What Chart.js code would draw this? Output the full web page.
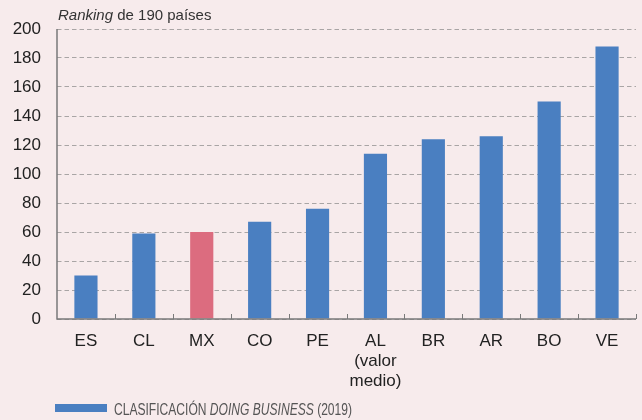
<!DOCTYPE html>
<html lang="es">
<head>
  <meta charset="UTF-8" />
  <title>Clasificación Doing Business</title>
  <script src="https://cdn.jsdelivr.net/npm/chart.js"></script>
  <style>
    html, body {
      margin: 0;
      padding: 0;
      background-color: #f7ebec;
    }
    .chart-box {
      width: 642px;
      height: 420px;
      position: relative;
    }
  </style>
</head>
<body>
  <div class="chart-box">
    <canvas id="rankChart"></canvas>
  </div>

  <script>
    // países y posición en el ranking (de 190)
    const paises = ['ES', 'CL', 'MX', 'CO', 'PE', ['AL', '(valor', 'medio)'], 'BR', 'AR', 'BO', 'VE'];
    const ranking = [30, 59, 60, 67, 76, 114, 124, 126, 150, 188];
    const ejeY = [0, 20, 40, 60, 80, 100, 120, 140, 160, 180, 200];

    const azul = '#4a7fc1';
    const rosa = '#dc6c7f';
    const coloresBarras = paises.map(p => p === 'MX' ? rosa : azul);
    const gris = '#7a7a7a';

    // ejes sólidos, marcas de categoría hacia dentro, título y leyenda con cursiva parcial
    const extras = {
      id: 'extras',
      afterDraw(chart) {
        const ctx = chart.ctx;
        const area = chart.chartArea;
        const x = chart.scales.x;
        ctx.save();

        ctx.strokeStyle = gris;
        ctx.lineWidth = 1.5;
        ctx.beginPath();
        ctx.moveTo(area.left, area.top);
        ctx.lineTo(area.left, area.bottom);
        ctx.lineTo(area.right, area.bottom);
        ctx.stroke();

        // marcas cortas entre categorías sobre el eje
        ctx.lineWidth = 1;
        const paso = x.getPixelForValue(1) - x.getPixelForValue(0);
        for (let i = 1; i <= paises.length; i++) {
          const px = Math.round(x.getPixelForValue(i) - paso / 2) + 0.5;
          ctx.beginPath();
          ctx.moveTo(px, area.bottom);
          ctx.lineTo(px, area.bottom - 5);
          ctx.stroke();
        }

        // título
        ctx.fillStyle = '#333';
        ctx.textBaseline = 'alphabetic';
        ctx.font = 'italic 15px "Liberation Sans", Arial, sans-serif';
        ctx.fillText('Ranking', 58, 20);
        const w = ctx.measureText('Ranking ').width;
        ctx.font = '15px "Liberation Sans", Arial, sans-serif';
        ctx.fillText('de 190 países', 58 + w, 20);

        // leyenda (texto estrecho)
        ctx.fillStyle = azul;
        ctx.fillRect(55, 404, 52, 8);
        ctx.fillStyle = '#555';
        const partes = [
          ['CLASIFICACIÓN ', ''],
          ['DOING BUSINESS', 'italic '],
          [' (2019)', '']
        ];
        const fuente = e => e + '16px "Liberation Sans", Arial, sans-serif';
        let total = 0;
        partes.forEach(([txt, e]) => { ctx.font = fuente(e); total += ctx.measureText(txt).width; });
        const k = 238 / total;
        ctx.translate(114, 415);
        ctx.scale(k, 1);
        let lx = 0;
        partes.forEach(([txt, e]) => {
          ctx.font = fuente(e);
          ctx.fillText(txt, lx, 0);
          lx += ctx.measureText(txt).width;
        });

        ctx.restore();
      }
    };

    const ctx = document.getElementById('rankChart').getContext('2d');
    new Chart(ctx, {
      type: 'bar',
      data: {
        labels: paises,
        datasets: [{
          label: 'Clasificación Doing Business (2019)',
          data: ranking,
          backgroundColor: coloresBarras,
          borderWidth: 0,
          barPercentage: 0.4,
          categoryPercentage: 1
        }]
      },
      options: {
        responsive: true,
        maintainAspectRatio: false,
        animation: false,
        layout: { padding: { left: 0, right: 6, top: 29, bottom: 0 } },
        plugins: {
          legend: { display: false },
          tooltip: { enabled: false }
        },
        scales: {
          x: {
            grid: { display: false, drawTicks: false },
            border: { display: false },
            ticks: {
              color: '#222',
              padding: 12,
              maxRotation: 0,
              font: { family: '"Liberation Sans", Arial, sans-serif', size: 17, lineHeight: 1.18 }
            },
            afterFit(scale) { scale.height = 101; }
          },
          y: {
            min: 0,
            max: 200,
            afterBuildTicks(scale) { scale.ticks = ejeY.map(v => ({ value: v })); },
            grid: {
              color: '#a9a5a5',
              drawTicks: false
            },
            border: { display: false, dash: [4.5, 3] },
            ticks: {
              color: '#222',
              padding: 16,
              font: { family: '"Liberation Sans", Arial, sans-serif', size: 17 }
            },
            afterFit(scale) { scale.width = 57; }
          }
        }
      },
      plugins: [extras]
    });
  </script>
</body>
</html>
